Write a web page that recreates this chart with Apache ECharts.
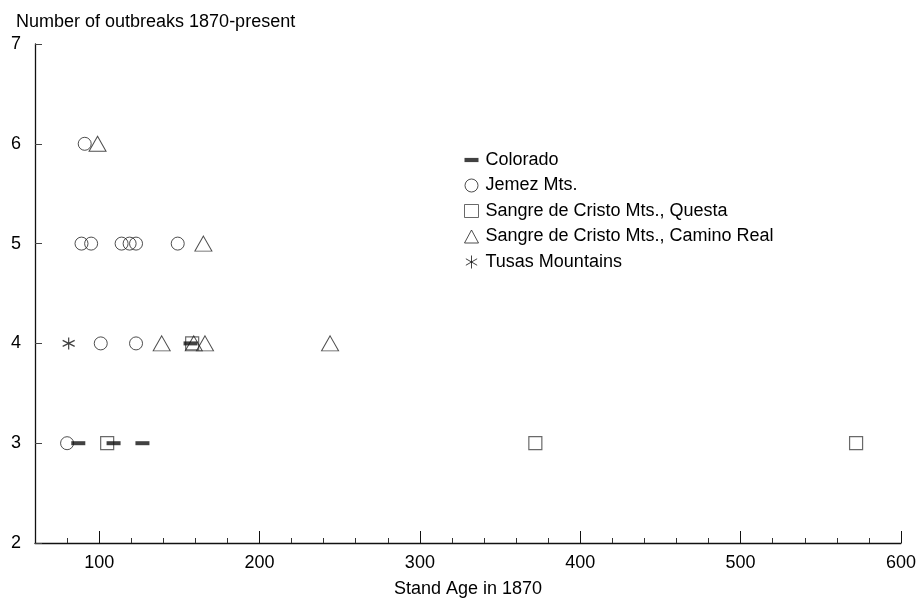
<!DOCTYPE html>
<html><head><meta charset="utf-8">
<script src="https://cdn.jsdelivr.net/npm/echarts@6/dist/echarts.min.js"></script>
<style>html,body{margin:0;padding:0;background:#fff}#c{width:919px;height:603px}</style>
</head><body><div id="c"></div>
<script>
var colorado = [[87,3],[109,3],[127,3],[157,4]];
var jemez = [[80,3],[101,4],[123,4],[89,5],[95,5],[114,5],[119,5],[123,5],[149,5],[91,6]];
var questa = [[105,3],[372,3],[572,3],[158,4]];
var camino = [[99,6],[165,5],[139,4],[159,4],[166,4],[244,4]];
var tusas = [[81,4]];
var xMajor = [100,200,300,400,500,600];
var xMinor = [80,120,140,160,180,220,240,260,280,320,340,360,380,420,440,460,480,520,540,560,580];
var names = ['Colorado','Jemez Mts.','Sangre de Cristo Mts., Questa','Sangre de Cristo Mts., Camino Real','Tusas Mountains'];

var FONT = 'Liberation Sans, Arial, sans-serif';
var asterisk = 'path://M0,-10L0,10M-8.66,-5L8.66,5M-8.66,5L8.66,-5';
var chart = echarts.init(document.getElementById('c'));
chart.setOption({
  animation:false,
  backgroundColor:'#fff',
  textStyle:{fontFamily:FONT,color:'#000'},
  title:{text:'Number of outbreaks 1870-present',left:11,top:8,
    textStyle:{fontFamily:FONT,fontSize:18,fontWeight:'normal',color:'#000'}},
  legend:{orient:'vertical',left:459,top:146,itemWidth:14,itemHeight:13,itemGap:7.5,
    itemStyle:{borderWidth:1},
    textStyle:{fontFamily:FONT,fontSize:18,color:'#000',padding:[0,0,0,2]},
    data:[
      {name:names[0],icon:'path://M0,0H10V3H0Z'},
      {name:names[1]},{name:names[2]},{name:names[3]},{name:names[4]}
    ]},
  grid:{left:35,right:17,top:44,bottom:59},
  xAxis:[{type:'value',min:60,max:600,position:'bottom',
    name:'Stand Age in 1870',nameLocation:'middle',nameGap:37,
    nameTextStyle:{fontFamily:FONT,fontSize:18,color:'#000'},
    axisLine:{show:true,lineStyle:{color:'#111',width:1.3}},
    axisTick:{show:true,inside:true,length:12,customValues:xMajor,lineStyle:{color:'#111'}},
    axisLabel:{show:true,customValues:xMajor,margin:11,fontFamily:FONT,fontSize:18,color:'#000'},
    splitLine:{show:false}},
   {type:'value',min:60,max:600,position:'bottom',
    axisLine:{show:false},
    axisTick:{show:true,inside:true,length:5,customValues:xMinor,lineStyle:{color:'#333'}},
    axisLabel:{show:false},splitLine:{show:false}}],
  yAxis:{type:'value',min:2,max:7,interval:1,
    axisLine:{show:true,lineStyle:{color:'#111',width:1.3}},
    axisTick:{show:true,inside:true,length:7,lineStyle:{color:'#444'}},
    axisLabel:{margin:14,fontFamily:FONT,fontSize:18,color:'#000'},
    splitLine:{show:false}},
  series:[
    {name:names[0],type:'scatter',data:colorado,symbol:'rect',symbolSize:[14,4],z:5,
      itemStyle:{color:'#111',borderWidth:0}},
    {name:names[1],type:'scatter',data:jemez,symbol:'circle',symbolSize:13,
      itemStyle:{color:'rgba(0,0,0,0)',borderColor:'#222',borderWidth:1}},
    {name:names[2],type:'scatter',data:questa,symbol:'rect',symbolSize:13,
      itemStyle:{color:'rgba(0,0,0,0)',borderColor:'#444',borderWidth:1.2}},
    {name:names[3],type:'scatter',data:camino,symbol:'triangle',symbolSize:[17,15],
      itemStyle:{color:'rgba(0,0,0,0)',borderColor:'#222',borderWidth:1}},
    {name:names[4],type:'scatter',data:tusas,symbol:asterisk,symbolSize:12,
      itemStyle:{color:'rgba(0,0,0,0)',borderColor:'#111',borderWidth:1.2}}
  ]
});
</script></body></html>
